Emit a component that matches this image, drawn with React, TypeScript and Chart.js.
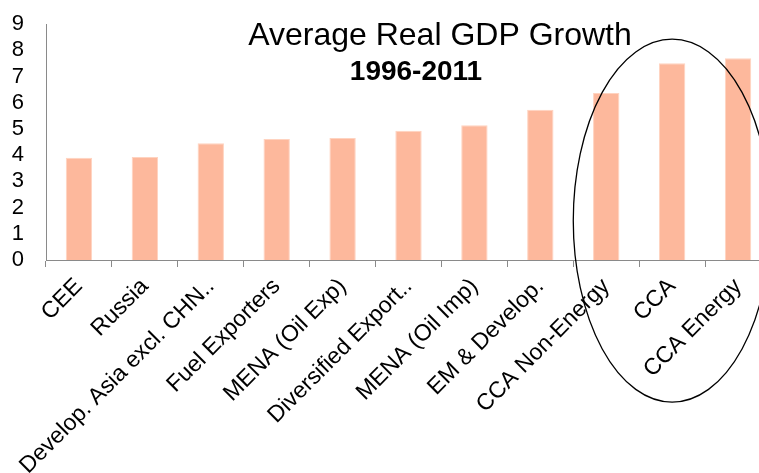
import React, { useEffect, useRef } from "react";
import { Chart, registerables } from "chart.js";

Chart.register(...registerables);

const categories = [
  "CEE",
  "Russia",
  "Develop. Asia excl. CHN..",
  "Fuel Exporters",
  "MENA (Oil Exp)",
  "Diversified Export..",
  "MENA (Oil Imp)",
  "EM & Develop.",
  "CCA Non-Energy",
  "CCA",
  "CCA Energy",
];

const growth = [3.9, 3.93, 4.45, 4.61, 4.65, 4.93, 5.14, 5.73, 6.37, 7.5, 7.69];

const yTicks = [0, 1, 2, 3, 4, 5, 6, 7, 8, 9];

const titleText = "Average Real GDP Growth";
const subtitleText = "1996-2011";

// ellipse annotation in data units: centre category index, centre value, radii
const ellipseCenterIndex = 9;
const ellipseCenterValue = 1.5;
const ellipseRadiusCategories = 1.5;
const ellipseRadiusValue = 6.92;

const FONT = "'Liberation Sans', Arial, Helvetica, sans-serif";

const overlayPlugin = {
  id: "overlay",
  afterDatasetsDraw(chart: any) {
    const ctx = chart.ctx;
    const x = chart.scales.x;
    const y = chart.scales.y;
    const cx = x.getPixelForValue(ellipseCenterIndex);
    const catW = x.getPixelForValue(1) - x.getPixelForValue(0);
    const rx = ellipseRadiusCategories * catW;
    const cy = y.getPixelForValue(ellipseCenterValue);
    const ry = Math.abs(y.getPixelForValue(ellipseCenterValue + ellipseRadiusValue) - cy);
    ctx.save();
    ctx.beginPath();
    ctx.ellipse(cx, cy, rx, ry, 0, 0, Math.PI * 2);
    ctx.strokeStyle = "#000";
    ctx.lineWidth = 1.3;
    ctx.stroke();
    ctx.restore();
  },
  afterDraw(chart: any) {
    const ctx = chart.ctx;
    ctx.save();
    ctx.fillStyle = "#000";
    ctx.textAlign = "center";
    ctx.textBaseline = "alphabetic";
    ctx.font = `32px ${FONT}`;
    ctx.fillText(titleText, 440, 45);
    ctx.font = `bold 28px ${FONT}`;
    ctx.fillText(subtitleText, 416, 80);
    ctx.restore();
  },
};

export default function App() {
  const canvasRef = useRef<HTMLCanvasElement | null>(null);

  useEffect(() => {
    if (!canvasRef.current) return;
    const chart = new Chart(canvasRef.current, {
      type: "bar",
      data: {
        labels: categories,
        datasets: [
          {
            data: growth,
            backgroundColor: "#FDB89C",
            borderColor: "#FFD3C0",
            borderWidth: 1,
            categoryPercentage: 1,
            barPercentage: 0.4,
          },
        ],
      },
      options: {
        animation: false,
        responsive: true,
        maintainAspectRatio: false,
        layout: { padding: { left: 0, top: 24, right: 0, bottom: 0 } },
        plugins: {
          legend: { display: false },
          title: { display: false },
          tooltip: { enabled: false },
        },
        scales: {
          x: {
            grid: {
              display: true,
              drawOnChartArea: false,
              drawTicks: true,
              tickLength: 7,
              color: "#8a8a8a",
              offset: true,
            },
            border: { display: true, color: "#8a8a8a", width: 1 },
            ticks: {
              autoSkip: false,
              minRotation: 45,
              maxRotation: 45,
              padding: 6,
              color: "#000",
              font: { family: FONT, size: 23 },
            },
            afterFit(scale: any) {
              scale.height = 213;
              scale.paddingLeft = 0;
              scale.paddingRight = 0;
            },
          },
          y: {
            min: 0,
            max: 9,
            afterBuildTicks(scale: any) {
              scale.ticks = yTicks.map((v) => ({ value: v }));
            },
            grid: { display: false, drawTicks: false },
            border: { display: true, color: "#8a8a8a", width: 1 },
            ticks: {
              autoSkip: false,
              padding: 22,
              color: "#000",
              font: { family: FONT, size: 22 },
            },
            afterFit(scale: any) {
              scale.width = 46;
              scale.paddingTop = 0;
              scale.paddingBottom = 0;
            },
          },
        },
      },
      plugins: [overlayPlugin],
    });
    return () => chart.destroy();
  }, []);

  return (
    <div
      style={{
        position: "fixed",
        left: 0,
        top: 0,
        width: 759,
        height: 473,
        overflow: "hidden",
        background: "#fff",
      }}
    >
      <div style={{ position: "relative", width: 771, height: 473 }}>
        <canvas ref={canvasRef} />
      </div>
    </div>
  );
}
